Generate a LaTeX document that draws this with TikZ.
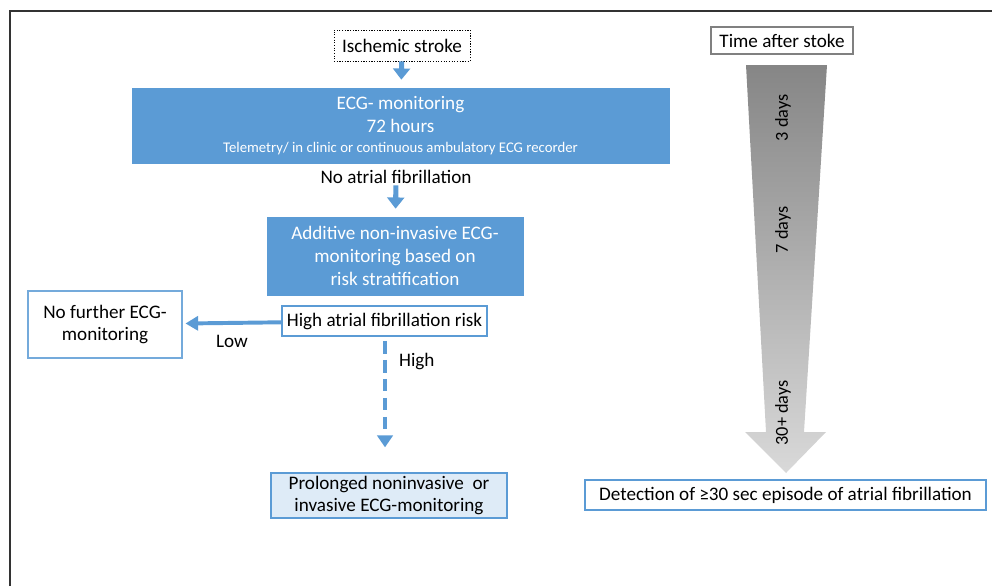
\documentclass[tikz,border=0pt]{standalone}
\usepackage{fontspec}
\setmainfont{Carlito}
\usetikzlibrary{arrows.meta}
\definecolor{ecgblue}{HTML}{5B9BD5}
\definecolor{paleblue}{HTML}{DEEBF7}
\definecolor{framegray}{HTML}{333333}
\tikzset{
  flowbox/.style={draw=ecgblue, fill=ecgblue, text=white, align=center, inner sep=0pt, font=\fontsize{13.6}{16.2}\selectfont},
  plainbox/.style={draw=ecgblue, fill=white, line width=0.9pt, align=center, inner sep=0pt, font=\fontsize{13.6}{16.2}\selectfont},
  flowarrow/.style={ecgblue, line width=3.6pt, -{Triangle[width=12pt,length=8pt]}},
  sidearrow/.style={ecgblue, line width=2.8pt, -{Triangle[width=10pt,length=9pt]}},
  daylabel/.style={rotate=90, font=\fontsize{13}{15}\selectfont},
}
\begin{document}
\begin{tikzpicture}[x=0.025cm, y=-0.025cm]
\useasboundingbox (0,0) rectangle (992,586);
\draw[framegray, line width=1.1pt] (10,586) -- (10,11) -- (992,11);
\node[plainbox, draw=black, densely dotted, line width=0.6pt, minimum width=3.4cm, minimum height=0.775cm] (isch) at (402,45.5) {Ischemic stroke};
\node[flowbox, minimum width=13.425cm, minimum height=1.875cm] (ecg) at (400.5,125.5) {ECG- monitoring\\72 hours\\[-2pt]{\fontsize{10.5}{12}\selectfont Telemetry/ in clinic or continuous ambulatory ECG recorder}};
\node[font=\fontsize{13.6}{16.2}\selectfont, inner sep=1pt] (noaf) at (396,177) {No atrial fibrillation};
\node[flowbox, minimum width=6.4cm, minimum height=1.95cm] (add) at (395,256) {Additive non-invasive ECG-\\monitoring based on\\risk stratification};
\node[plainbox, minimum width=5.125cm, minimum height=0.75cm] (risk) at (384.5,321) {High atrial fibrillation risk};
\node[plainbox, draw=ecgblue!85, minimum width=3.85cm, minimum height=1.675cm] (nofur) at (105,324.5) {No further ECG-\\monitoring};
\node[plainbox, fill=paleblue, minimum width=5.9cm, minimum height=1.125cm] (prol) at (389,495.5) {Prolonged noninvasive\ \ or\\invasive ECG-monitoring};
\node[plainbox, draw=gray, minimum width=3.55cm, minimum height=0.675cm] (time) at (782,40.5) {Time after stoke};
\node[plainbox, line width=1.2pt, minimum width=10.025cm, minimum height=0.75cm] (detect) at (785.5,495) {Detection of ≥30 sec episode of atrial fibrillation};
\draw[flowarrow, shorten >=5.7pt] (isch) -- (ecg);
\draw[flowarrow, shorten >=5.7pt] (noaf) -- (add);
\draw[sidearrow, shorten >=2pt] (risk) -- (nofur) node[pos=0.5, below=4pt, black, font=\fontsize{13.6}{16.2}\selectfont] {Low};
\draw[sidearrow, line width=3.4pt, -{Triangle[width=11pt,length=8.5pt]}, dash pattern=on 9pt off 4.5pt, shorten <=3pt, shorten >=17.8pt] (risk.south -| 385,0) -- (prol.north -| 385,0) node[pos=0.18, right=5pt, black, font=\fontsize{13.6}{16.2}\selectfont] {High};
\shade[top color=gray!95, bottom color=gray!30] (746,65) -- (827,65) -- (804,432) -- (826,432) -- (786,473) -- (745,432) -- (766,432) -- cycle;
\node[daylabel] (d3) at (783,118) {3 days};
\node[daylabel] (d7) at (783,230) {7 days};
\node[daylabel] (d30) at (783,413) {30+ days};
\end{tikzpicture}
\end{document}
